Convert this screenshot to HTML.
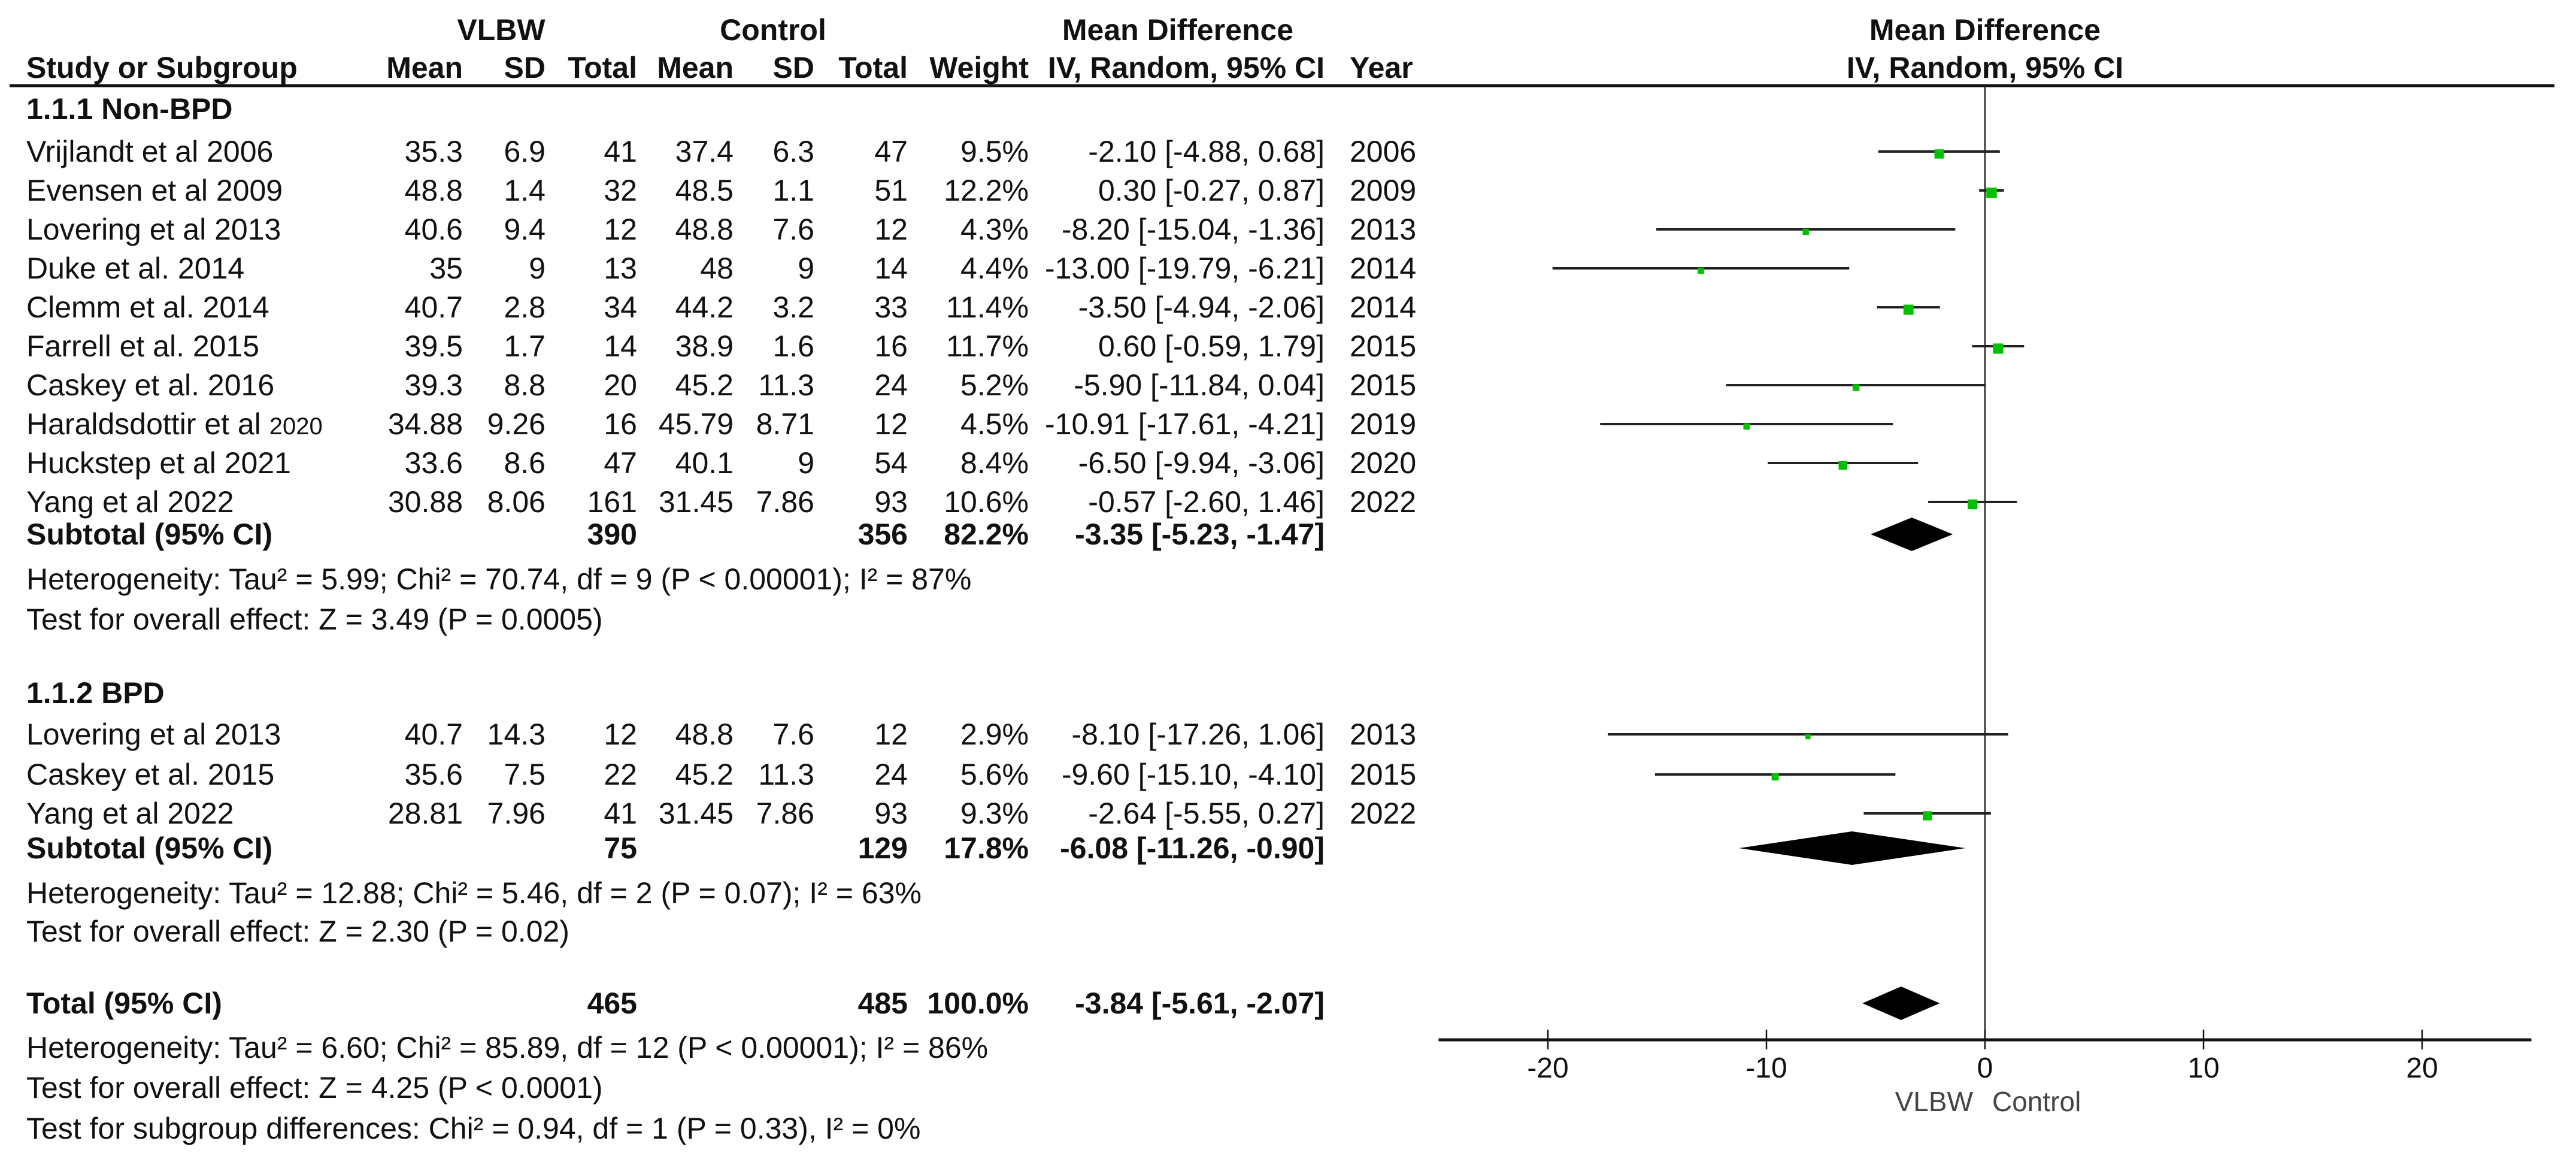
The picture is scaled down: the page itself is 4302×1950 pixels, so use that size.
<!DOCTYPE html>
<html><head><meta charset="utf-8"><style>
html,body{margin:0;padding:0;background:#fff;}
svg{display:block;font-family:"Liberation Sans",Arial,sans-serif;}
</style></head><body>
<svg id="chart" width="4302" height="1950" viewBox="0 0 4302 1950" xmlns="http://www.w3.org/2000/svg">
<rect width="4302" height="1950" fill="#fff"/>
<g id="tbl"></g>
<g id="plot"></g>
</svg>
<script>
// ---- data ----
const studyNames = ["Vrijlandt et al 2006","Evensen et al 2009","Lovering et al 2013","Duke et al. 2014","Clemm et al. 2014","Farrell et al. 2015","Caskey et al. 2016","Haraldsdottir et al 2020","Huckstep et al 2021","Yang et al 2022","Lovering et al 2013","Caskey et al. 2015","Yang et al 2022"];
const studyGroup = [1,1,1,1,1,1,1,1,1,1,2,2,2];
const vlbwMean = ["35.3","48.8","40.6","35","40.7","39.5","39.3","34.88","33.6","30.88","40.7","35.6","28.81"];
const vlbwSD = ["6.9","1.4","9.4","9","2.8","1.7","8.8","9.26","8.6","8.06","14.3","7.5","7.96"];
const vlbwTotal = ["41","32","12","13","34","14","20","16","47","161","12","22","41"];
const ctrlMean = ["37.4","48.5","48.8","48","44.2","38.9","45.2","45.79","40.1","31.45","48.8","45.2","31.45"];
const ctrlSD = ["6.3","1.1","7.6","9","3.2","1.6","11.3","8.71","9","7.86","7.6","11.3","7.86"];
const ctrlTotal = ["47","51","12","14","33","16","24","12","54","93","12","24","93"];
const weights = [9.5,12.2,4.3,4.4,11.4,11.7,5.2,4.5,8.4,10.6,2.9,5.6,9.3];
const md = [-2.10,0.30,-8.20,-13.00,-3.50,0.60,-5.90,-10.91,-6.50,-0.57,-8.10,-9.60,-2.64];
const ciLow = [-4.88,-0.27,-15.04,-19.79,-4.94,-0.59,-11.84,-17.61,-9.94,-2.60,-17.26,-15.10,-5.55];
const ciHigh = [0.68,0.87,-1.36,-6.21,-2.06,1.79,0.04,-4.21,-3.06,1.46,1.06,-4.10,0.27];
const years = ["2006","2009","2013","2014","2014","2015","2015","2019","2020","2022","2013","2015","2022"];
const summaryLabels = ["Subtotal (95% CI)","Subtotal (95% CI)","Total (95% CI)"];
const summaryVlbwN = ["390","75","465"];
const summaryCtrlN = ["356","129","485"];
const summaryWeight = ["82.2%","17.8%","100.0%"];
const summaryMD = [-3.35,-6.08,-3.84];
const summaryLow = [-5.23,-11.26,-5.61];
const summaryHigh = [-1.47,-0.90,-2.07];
const xTicks = [-20,-10,0,10,20];

// ---- layout ----
const NS="http://www.w3.org/2000/svg";
const tbl=document.getElementById('tbl'), plot=document.getElementById('plot');
const X0=3315, PX=36.5;
function xs(v){return X0+v*PX;}
const rowY=[253,318,383,448,513,578,643,708,773,838,1226,1293,1358];
const sumY=[892,1416,1675];
function txt(parent,s,x,y,anchor,bold,size){
  const t=document.createElementNS(NS,'text');
  t.setAttribute('x',x);t.setAttribute('y',y+17);
  t.setAttribute('font-size',size||50);
  t.setAttribute('text-anchor',anchor||'start');
  if(bold)t.setAttribute('font-weight','bold');
  t.setAttribute('fill','#111');
  t.textContent=s;parent.appendChild(t);return t;
}
function f2(v){return v.toFixed(2);}
let h;
h=txt(tbl,"VLBW",837,50,'middle',true);


h=txt(tbl,"Control",1291,50,'middle',true);


h=txt(tbl,"Mean Difference",1967,50,'middle',true);


h=txt(tbl,"Mean Difference",3315,50,'middle',true);


const colR=[773,911,1064,1225,1360,1516,1718,2212];
const hdr2=["Mean","SD","Total","Mean","SD","Total","Weight","IV, Random, 95% CI"];
h=txt(tbl,"Study or Subgroup",44,113,'start',true);


hdr2.forEach((s,i)=>{const e=txt(tbl,s,colR[i],113,'end',true);

});
h=txt(tbl,"Year",2254,113,'start',true);


h=txt(tbl,"IV, Random, 95% CI",3315,113,'middle',true);


const hl=document.createElementNS(NS,'line');
hl.setAttribute('x1',16);hl.setAttribute('x2',4266);hl.setAttribute('y1',143);hl.setAttribute('y2',143);
hl.setAttribute('stroke','#111');hl.setAttribute('stroke-width',5);


tbl.appendChild(hl);
h=txt(tbl,"1.1.1 Non-BPD",44,182,'start',true);


h=txt(tbl,"1.1.2 BPD",44,1157,'start',true);


studyNames.forEach((n,i)=>{
  const y=rowY[i];
  const g=document.createElementNS(NS,'g');
  
  
  tbl.appendChild(g);
  if(n==="Haraldsdottir et al 2020"){
    const t=txt(g,"Haraldsdottir et al ",44,y);
    const sp=document.createElementNS(NS,'tspan');
    sp.setAttribute('font-size',40);
    sp.textContent="2020";
    t.appendChild(sp);
  } else txt(g,n,44,y);
  const vals=[vlbwMean[i],vlbwSD[i],vlbwTotal[i],ctrlMean[i],ctrlSD[i],ctrlTotal[i],weights[i].toFixed(1)+"%",f2(md[i])+" ["+f2(ciLow[i])+", "+f2(ciHigh[i])+"]"];
  vals.forEach((v,j)=>txt(g,v,colR[j],y,'end'));
  txt(g,years[i],2254,y);
  const l=document.createElementNS(NS,'line');
  l.setAttribute('x1',xs(ciLow[i]));l.setAttribute('x2',xs(ciHigh[i]));
  l.setAttribute('y1',y);l.setAttribute('y2',y);
  l.setAttribute('stroke','#222');l.setAttribute('stroke-width',4);
  
  
  plot.appendChild(l);
  const s=5*Math.sqrt(weights[i]);
  const r=document.createElementNS(NS,'rect');
  r.setAttribute('x',xs(md[i])-s/2);r.setAttribute('y',y+4-s/2);
  r.setAttribute('width',s);r.setAttribute('height',s);r.setAttribute('fill','#00c000');
  
  
  plot.appendChild(r);
});
summaryLabels.forEach((lab,i)=>{
  const y=sumY[i];
  const g=document.createElementNS(NS,'g');
  
  
  tbl.appendChild(g);
  txt(g,lab,44,y,'start',true);
  txt(g,summaryVlbwN[i],colR[2],y,'end',true);
  txt(g,summaryCtrlN[i],colR[5],y,'end',true);
  txt(g,summaryWeight[i],colR[6],y,'end',true);
  txt(g,f2(summaryMD[i])+" ["+f2(summaryLow[i])+", "+f2(summaryHigh[i])+"]",colR[7],y,'end',true);
  const p=document.createElementNS(NS,'polygon');
  p.setAttribute('points',`${xs(summaryLow[i])},${y} ${xs(summaryMD[i])},${y-28} ${xs(summaryHigh[i])},${y} ${xs(summaryMD[i])},${y+28}`);
  p.setAttribute('fill','#000');
  
  
  plot.appendChild(p);
});
const notes=[["Heterogeneity: Tau² = 5.99; Chi² = 70.74, df = 9 (P < 0.00001); I² = 87%",967],
["Test for overall effect: Z = 3.49 (P = 0.0005)",1034],
["Heterogeneity: Tau² = 12.88; Chi² = 5.46, df = 2 (P = 0.07); I² = 63%",1491],
["Test for overall effect: Z = 2.30 (P = 0.02)",1555],
["Heterogeneity: Tau² = 6.60; Chi² = 85.89, df = 12 (P < 0.00001); I² = 86%",1749],
["Test for overall effect: Z = 4.25 (P < 0.0001)",1816],
["Test for subgroup differences: Chi² = 0.94, df = 1 (P = 0.33), I² = 0%",1884]];
notes.forEach(n=>{const e=txt(tbl,n[0],44,n[1]);

});
const zl=document.createElementNS(NS,'line');
zl.setAttribute('x1',xs(0));zl.setAttribute('x2',xs(0));zl.setAttribute('y1',143);zl.setAttribute('y2',1736);
zl.setAttribute('stroke','#222');zl.setAttribute('stroke-width',2.5);


plot.appendChild(zl);
const ax=document.createElementNS(NS,'line');
ax.setAttribute('x1',xs(-25));ax.setAttribute('x2',xs(25));ax.setAttribute('y1',1736);ax.setAttribute('y2',1736);
ax.setAttribute('stroke','#111');ax.setAttribute('stroke-width',5);


plot.appendChild(ax);
xTicks.forEach(v=>{
  const t=document.createElementNS(NS,'line');
  t.setAttribute('x1',xs(v));t.setAttribute('x2',xs(v));t.setAttribute('y1',1719);t.setAttribute('y2',1752);
  t.setAttribute('stroke','#111');t.setAttribute('stroke-width',2.5);
  
  
  plot.appendChild(t);
  const l=txt(plot,String(v),xs(v),1782,'middle',false,48);
  
  
});
let a=txt(plot,"VLBW",xs(0)-20,1838,'end',false,46);a.setAttribute('fill','#444');


a=txt(plot,"Control",xs(0)+12,1838,'start',false,46);a.setAttribute('fill','#444');


</script>
</body></html>
